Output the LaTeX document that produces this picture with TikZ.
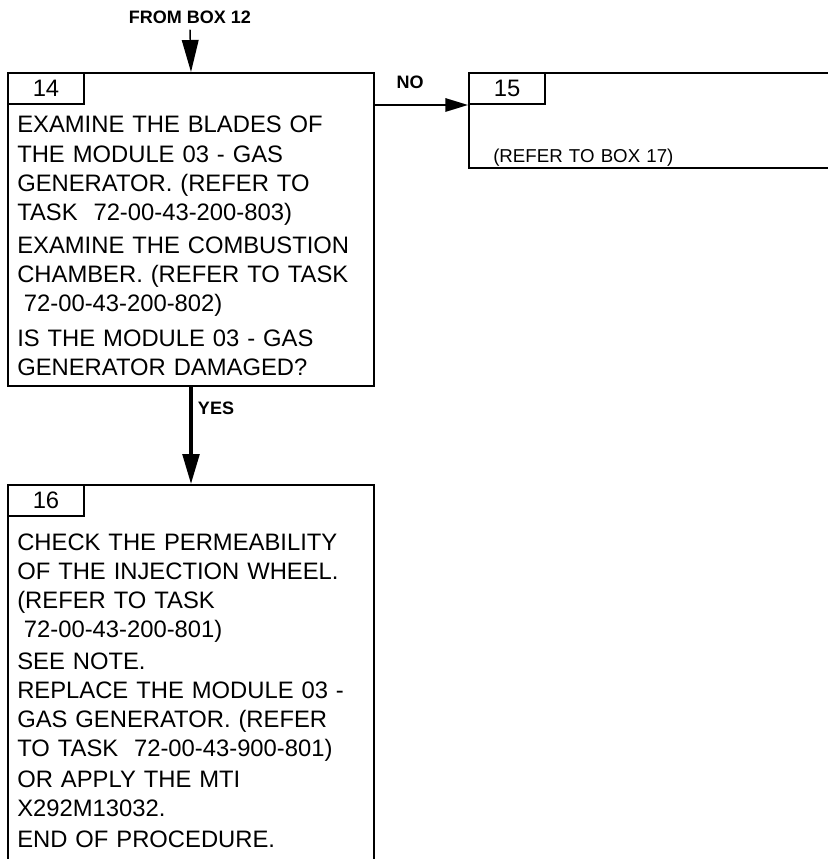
\documentclass[tikz,border=0pt]{standalone}
\usepackage{fontspec}
\setmainfont{Liberation Sans}
\usetikzlibrary{arrows.meta, positioning}
\newdimen\pxu \pxu=0.75pt
\tikzset{
  bx/.style = {draw=black, line width=1.5pt, inner sep=0pt, anchor=north west},
  tb/.style = {bx, minimum width=76\pxu, minimum height=31\pxu,
    font=\fontsize{17.85}{20}\selectfont},
  tx/.style = {anchor=base west, inner sep=0pt, text width=350\pxu,
    align=left, font=\fontsize{17.85}{21.8}\selectfont},
  lb/.style = {font=\bfseries\fontsize{13.5}{16}\selectfont},
  seta/.style = {-{Triangle[length=22.5pt, width=12.5pt]}, line width=2.6pt},
  setb/.style = {-{Triangle[length=17pt, width=10pt]}, line width=1.5pt},
  setc/.style = {-{Triangle[length=24pt, width=12.5pt]}, line width=1.1pt}
}
\newcommand{\lead}{\hspace*{.28em}}

\begin{document}
\begin{tikzpicture}[x=0.75pt, y=-0.75pt]
  \useasboundingbox (0,0) rectangle (827,859);
  \node [bx, minimum width=366\pxu, minimum height=313\pxu] (b14) at (7,72) {};
  \node [bx, minimum width=420\pxu, minimum height=95\pxu] (b15) at (468,72) {};
  \node [bx, minimum width=366\pxu, minimum height=420\pxu] (b16) at (7,484) {};
  \node [tb] (t14) at (b14.north west) {14};
  \node [tb] (t15) at (b15.north west) {15};
  \node [tb] (t16) at (b16.north west) {16};
  \node [tx] (p14a) at (17,133) {EXAMINE THE BLADES OF\\THE MODULE 03 - GAS\\
    GENERATOR. (REFER TO\\TASK\ \ 72-00-43-200-803)};
  \node [tx] (p14b) at (17,253) {EXAMINE THE COMBUSTION\\
    CHAMBER. (REFER TO TASK\\\lead 72-00-43-200-802)};
  \node [tx] (p14c) at (17,346) {IS THE MODULE 03 - GAS\\GENERATOR DAMAGED?};
  \node [tx, font=\fontsize{14}{17}\selectfont] (p15) at (493,163) {(REFER TO BOX 17)};
  \node [tx] (p16a) at (17,550) {CHECK THE PERMEABILITY\\OF THE INJECTION WHEEL.\\
    (REFER TO TASK\\\lead 72-00-43-200-801)};
  \node [tx] (p16b) at (17,669) {SEE NOTE.};
  \node [tx] (p16c) at (17,698) {REPLACE THE MODULE 03 -\\GAS GENERATOR. (REFER\\
    TO TASK\ \ 72-00-43-900-801)};
  \node [tx] (p16d) at (17,787) {OR APPLY THE MTI\\X292M13032.};
  \node [tx] (p16e) at (17,847) {END OF PROCEDURE.};
  \node [lb, inner sep=4.5pt] (from) at (190,17) {FROM BOX 12};
  \draw [setc] (from.south) -- (b14.north);
  \node [lb] (no) at (410,82) {NO};
  \draw [setb] (b14.east |- t15.south) -- (t15.south west);
  \node [lb] (yes) at (216,408) {YES};
  \draw [seta] (b14.south) -- (b16.north);
\end{tikzpicture}
\end{document}
